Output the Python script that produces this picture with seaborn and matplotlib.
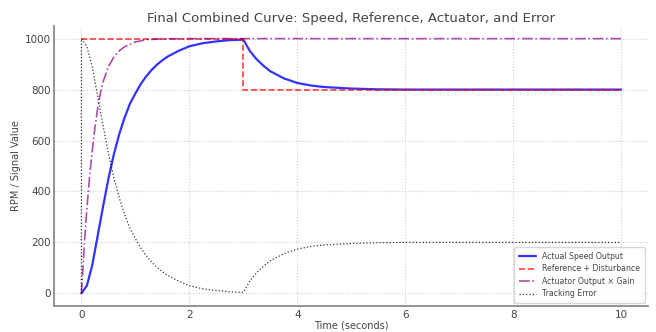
import matplotlib
matplotlib.use("Agg")
import matplotlib.pyplot as plt
import seaborn as sns
import pandas as pd

# ---- data ----
speed_time = [0.0, 0.1, 0.2, 0.3, 0.4, 0.5, 0.6, 0.7, 0.8, 0.9, 1.0, 1.1, 1.2, 1.3, 1.4,
              1.5, 1.6, 1.8, 2.0, 2.25, 2.5, 2.75, 3.0, 3.125, 3.25, 3.375, 3.5, 3.75,
              4.0, 4.25, 4.5, 5.0, 5.5, 6.0, 7.0, 8.0, 9.0, 10.0]
speed_values = [0, 30, 110, 225, 340, 450, 545, 625, 690, 745, 785, 822, 852, 877, 898,
                915, 930, 952, 970, 982, 989, 994, 996, 950, 918, 893, 872, 844,
                826, 816, 810, 804, 801, 800, 800, 800, 800, 800]

ref_time = [0.0, 3.0, 3.0, 10.0]
ref_values = [1000, 1000, 800, 800]

act_time = [0.0, 0.05, 0.1, 0.15, 0.2, 0.25, 0.3, 0.35, 0.4, 0.5, 0.6, 0.7, 0.8,
            1.0, 1.2, 1.5, 2.0, 10.0]
act_values = [0, 180, 330, 455, 560, 650, 725, 785, 830, 890, 927, 952, 968,
              987, 996, 999, 1000, 1000]

err_time = [0.0, 0.0, 0.1, 0.2, 0.3, 0.4, 0.5, 0.6, 0.7, 0.8, 0.9, 1.0, 1.1, 1.2, 1.3, 1.4,
            1.5, 1.6, 1.8, 2.0, 2.25, 2.5, 2.75, 3.0, 3.125, 3.25, 3.375, 3.5, 3.75,
            4.0, 4.25, 4.5, 5.0, 5.5, 6.0, 7.0, 8.0, 9.0, 10.0]
err_values = [0, 1000, 970, 890, 775, 660, 550, 455, 375, 310, 255, 215, 178, 148, 123, 102,
              85, 70, 48, 30, 18, 11, 6, 4, 50, 82, 107, 128, 156,
              174, 184, 190, 196, 199, 200, 200, 200, 200, 200]

title = "Final Combined Curve: Speed, Reference, Actuator, and Error"
xlabel = "Time (seconds)"
ylabel = "RPM / Signal Value"
labels = ["Actual Speed Output", "Reference + Disturbance",
          "Actuator Output \u00d7 Gain", "Tracking Error"]

# ---- style ----
sns.set_style("whitegrid", {
    "grid.linestyle": ":",
    "grid.color": "#cfcfcf",
    "axes.edgecolor": "#8a8a8a",
    "axes.labelcolor": "#444444",
    "text.color": "#444444",
    "xtick.color": "#444444",
    "ytick.color": "#444444",
})
plt.rcParams["font.family"] = ["DejaVu Sans"]

fig = plt.figure(figsize=(6.56, 3.32), dpi=100)
ax = fig.add_axes([0.083, 0.078, 0.905, 0.844])

df_speed = pd.DataFrame({"t": speed_time, "v": speed_values})
df_ref = pd.DataFrame({"t": ref_time, "v": ref_values})
df_act = pd.DataFrame({"t": act_time, "v": act_values})
df_err = pd.DataFrame({"t": err_time, "v": err_values})

sns.lineplot(data=df_speed, x="t", y="v", ax=ax, color="#0000ff", lw=1.6, alpha=0.8,
             label=labels[0], estimator=None, sort=False)
sns.lineplot(data=df_ref, x="t", y="v", ax=ax, color="red", lw=1.2, alpha=0.75,
             linestyle="--", label=labels[1], estimator=None, sort=False)
sns.lineplot(data=df_act, x="t", y="v", ax=ax, color="darkmagenta", lw=1.2, alpha=0.7,
             linestyle="-.", label=labels[2], estimator=None, sort=False)
sns.lineplot(data=df_err, x="t", y="v", ax=ax, color="black", lw=0.9, alpha=0.8,
             linestyle=":", label=labels[3], estimator=None, sort=False)

ax.set_xlim(-0.5, 10.5)
ax.set_ylim(-50, 1050)
ax.set_xticks([0, 2, 4, 6, 8, 10])
ax.set_yticks([0, 200, 400, 600, 800, 1000])
ax.tick_params(labelsize=7.5, length=0, pad=2.5)
for s in ["top", "right"]:
    ax.spines[s].set_visible(False)
for s in ["left", "bottom"]:
    ax.spines[s].set_linewidth(1.3)

ax.set_title(title, fontsize=9.5, color="#444444", pad=3)
ax.set_xlabel(xlabel, fontsize=7, labelpad=1)
ax.set_ylabel(ylabel, fontsize=7, labelpad=3)

leg = ax.legend(loc="lower right", fontsize=5.6, frameon=True, borderpad=0.6,
                handlelength=2.2, labelspacing=0.45, borderaxespad=0.4)
leg.get_frame().set_edgecolor("#cccccc")
for txt in leg.get_texts():
    txt.set_color("#444444")

fig.savefig("out.png", dpi=100)
